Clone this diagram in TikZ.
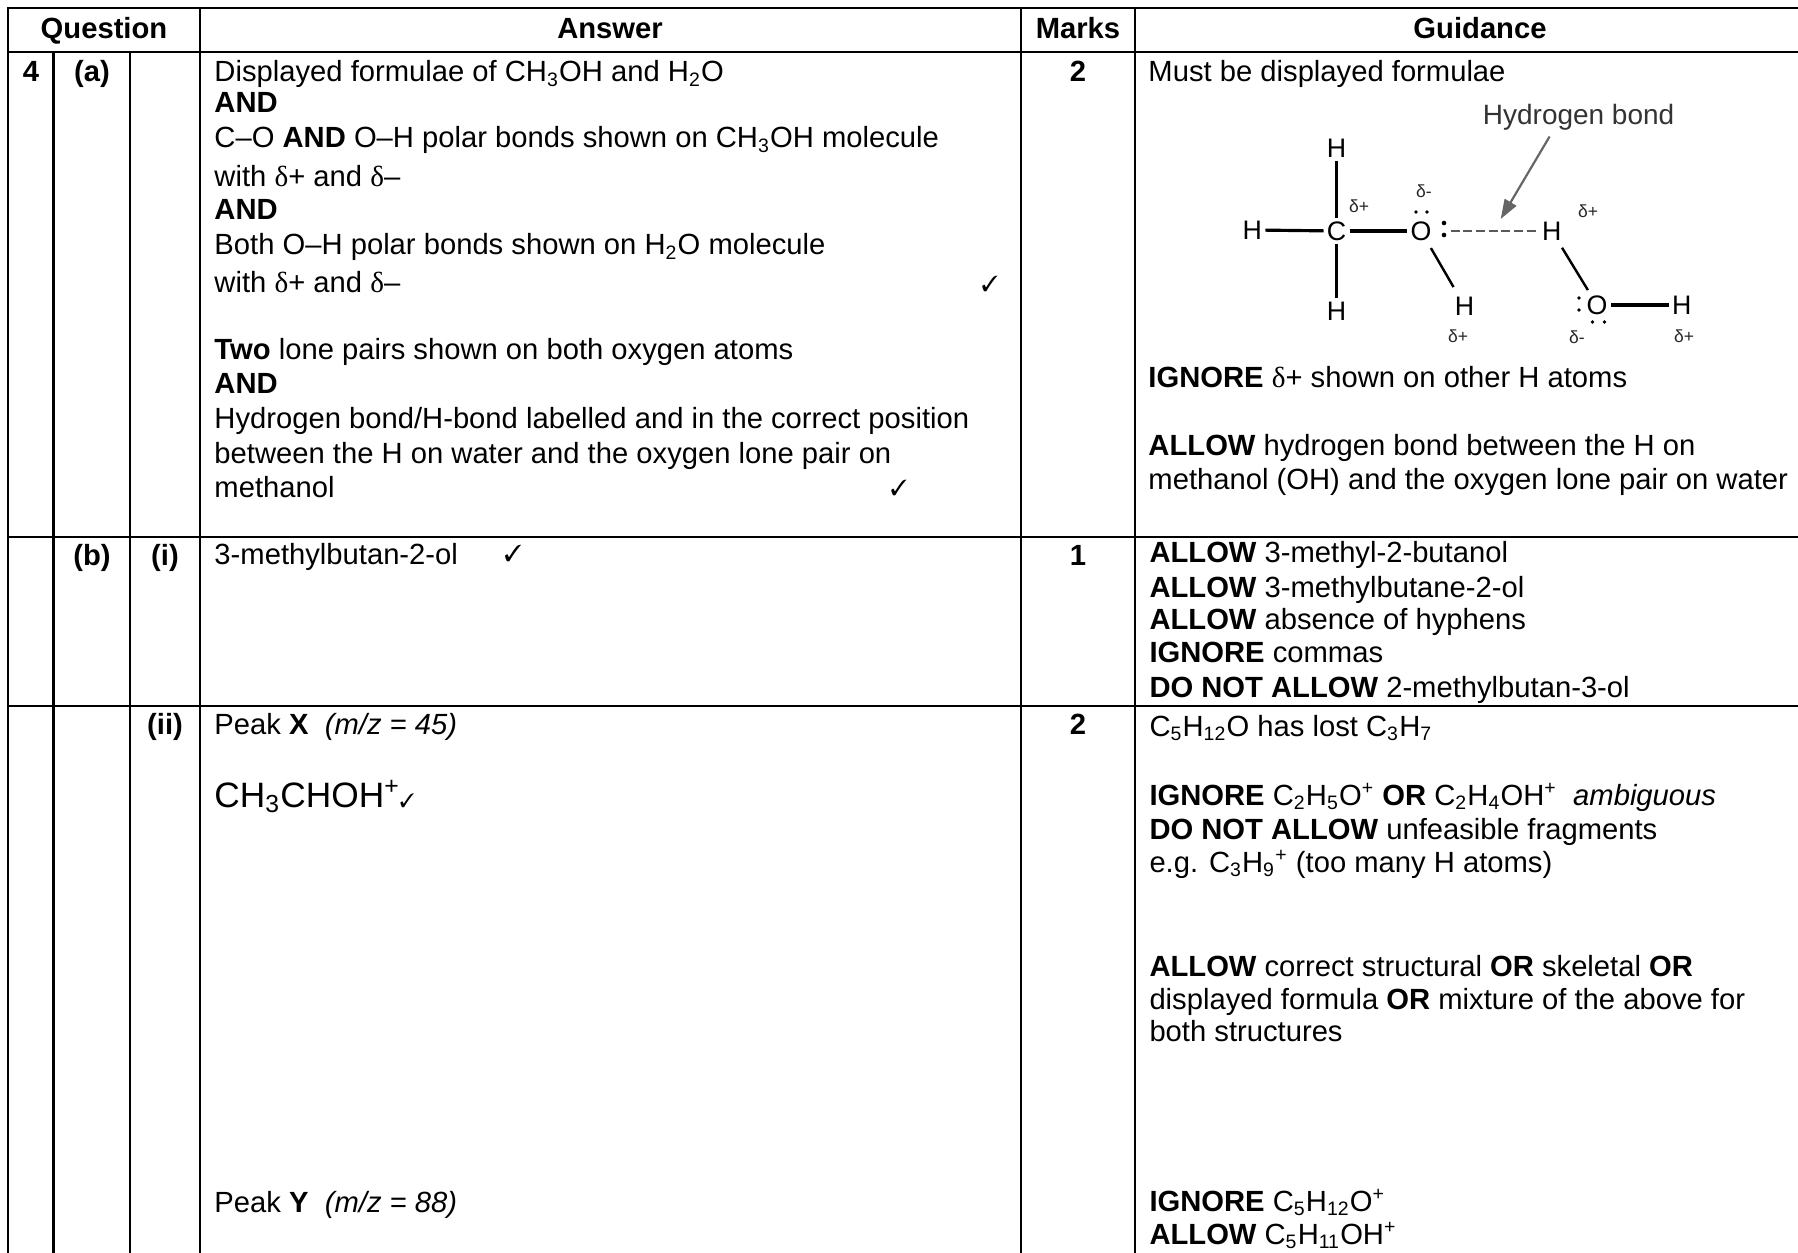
\documentclass[tikz,border=0pt]{standalone}
\usepackage{fontspec}
\usepackage{pifont}
\setmainfont{Liberation Sans}
\newfontfamily\dfont{Liberation Serif}
\usetikzlibrary{calc,arrows.meta}
\newcommand{\dd}{{\dfont δ}}
\newcommand{\sbs}[1]{\textsubscript{#1}}
\newcommand{\sps}[1]{\textsuperscript{#1}}
\newcommand{\chk}[1][9]{{\fontsize{#1}{#1}\selectfont\ding{51}}}
\begin{document}
\begin{tikzpicture}[x=0.411pt,y=-0.411pt,
  body/.style={inner sep=0pt, font=\fontsize{12}{13.8}\selectfont},
  txt/.style={body, anchor=base west},
  ctr/.style={body, anchor=base},
  hdr/.style={ctr, font=\fontsize{12}{13.8}\selectfont\bfseries},
  grid/.style={line width=0.9pt, line cap=rect},
  atom/.style={inner sep=1.2pt, font=\fontsize{11}{13}\selectfont, text=black},
  dlt/.style={inner sep=0pt, font=\fontsize{7.2}{8.5}\selectfont, text=black!85},
  bond/.style={line width=1.3pt, draw=black},
  dbond/.style={line width=1pt, draw=black},
  hbond/.style={line width=1.2pt, draw=black!65, dash pattern=on 3.6pt off 1.6pt},
  lpdot/.style={fill=black},
  pointer/.style={line width=0.9pt, draw=black!60, -{Triangle[length=8pt,width=5.5pt]}},
  lbl/.style={inner sep=0pt, font=\fontsize{11.5}{13}\selectfont, text=black!80}
]
\useasboundingbox (0,0) rectangle (1798,1253);
\clip (0,0) rectangle (1798,1253);

% ---------- grid ----------
\draw[grid] (8,8) -- (1840,8);
\draw[grid] (8,52) -- (1840,52);
\draw[grid] (8,537) -- (1840,537);
\draw[grid] (8,706) -- (1840,706);
\draw[grid] (8,8) -- (8,1270);
\draw[grid] (53.5,52) -- (53.5,1270);
\draw[grid] (130,52) -- (130,1270);
\draw[grid] (200,8) -- (200,1270);
\draw[grid] (1021,8) -- (1021,1270);
\draw[grid] (1135,8) -- (1135,1270);

% ---------- header ----------
\node[hdr] (hq) at (104,39) {Question};
\node[hdr] (ha) at (610,39) {Answer};
\node[hdr] (hm) at (1078,39) {Marks};
\node[hdr] (hg) at (1480,39) {Guidance};

% ---------- labels ----------
\node[hdr] (q4) at (31,82) {4};
\node[hdr] (qa) at (92,82) {(a)};
\node[hdr] (qb) at (92,566) {(b)};
\node[hdr] (qi) at (165,566) {(i)};
\node[hdr] (qii) at (165,734) {(ii)};
\node[hdr] (m1) at (1078,82) {2};
\node[hdr] (m2) at (1078,566) {1};
\node[hdr] (m3) at (1078,734) {2};

% ---------- answer (a) ----------
\node[txt] (a1) at (214,82) {Displayed formulae of CH\sbs{3}OH and H\sbs{2}O};
\node[txt] (a2) at (214,113) {\textbf{AND}};
\node[txt] (a3) at (214,148) {C–O \textbf{AND} O–H polar bonds shown on CH\sbs{3}OH molecule};
\node[txt] (a4) at (214,187) {with \dd+ and \dd–};
\node[txt] (a5) at (214,220) {\textbf{AND}};
\node[txt] (a6) at (214,255) {Both O–H polar bonds shown on H\sbs{2}O molecule};
\node[txt] (a7) at (214,293) {with \dd+ and \dd–};
\node[ctr] (c1) at (990,292) {\chk[9]};
\node[txt] (a8) at (214,360) {\textbf{Two} lone pairs shown on both oxygen atoms};
\node[txt] (a9) at (214,394) {\textbf{AND}};
\node[txt] (a10) at (214,429) {Hydrogen bond/H-bond labelled and in the correct position};
\node[txt] (a11) at (214,464) {between the H on water and the oxygen lone pair on};
\node[txt] (a12) at (214,498) {methanol};
\node[ctr] (c2) at (899,496) {\chk[9]};

% ---------- guidance (a) ----------
\node[txt] (g1) at (1148,82) {Must be displayed formulae};
\node[txt] (g2) at (1148,388) {\textbf{IGNORE} \dd+ shown on other H atoms};
\node[txt] (g3) at (1148,456) {\textbf{ALLOW} hydrogen bond between the H on};
\node[txt] (g4) at (1148,490) {methanol (OH) and the oxygen lone pair on water};

% ---------- molecule ----------
\node[atom] (Ht) at (1336.6,148) {H};
\node[atom] (C)  at (1336.6,231) {C};
\node[atom] (Hl) at (1252.3,230) {H};
\node[atom] (Hb) at (1336.6,311) {H};
\node[atom] (O1) at (1421,231) {O};
\node[atom] (Hw) at (1551.8,231) {H};
\node[atom] (Hm) at (1464.5,306) {H};
\node[atom] (O2) at (1597,305) {O};
\node[atom] (Hr) at (1681.8,305) {H};
\draw[bond] (Hl) -- (C);
\draw[bond] (C) -- (O1);
\draw[bond] (Ht) -- (C);
\draw[bond] (C) -- (Hb);
\draw[dbond, shorten <=2pt, shorten >=3pt] (O1) -- (Hm);
\draw[dbond, shorten <=2pt, shorten >=1pt] (Hw) -- (O2);
\draw[bond] (O2.east) -- (Hr.west);
\draw[hbond] ($(O1.east)+(16,0)$) -- (Hw.west);
% lone pairs
\fill[lpdot] ($(O1)+(-5,-19)$) circle (0.75pt);
\fill[lpdot] ($(O1)+(6,-19)$) circle (0.75pt);
\fill[lpdot] ($(O1)+(23,-8)$) circle (0.95pt);
\fill[lpdot] ($(O1)+(23,4)$) circle (0.95pt);
\fill[lpdot] ($(O2)+(-18,-7)$) circle (0.8pt);
\fill[lpdot] ($(O2)+(-18,5)$) circle (0.8pt);
\fill[lpdot] ($(O2)+(-4.5,17)$) circle (0.75pt);
\fill[lpdot] ($(O2)+(7.5,17)$) circle (0.75pt);
% partial charges
\node[dlt] (d1) at (1359,206) {δ+};
\node[dlt] (d2) at (1424,191) {δ-};
\node[dlt] (d3) at (1588,211) {δ+};
\node[dlt] (d4) at (1458,336) {δ+};
\node[dlt] (d5) at (1577,337) {δ-};
\node[dlt] (d6) at (1684,336) {δ+};
% label and arrow
\node[lbl] (hbl) at (1578.6,117) {Hydrogen bond};
\coordinate (tip) at (1500.7,219);
\draw[pointer] ($(hbl.south)+(-29,6)$) -- (tip);

% ---------- (b)(i) ----------
\node[txt] (b1) at (214,565) {3-methylbutan-2-ol};
\node[ctr] (c3) at (513,562) {\chk[9.5]};
\node[txt] (gb1) at (1149,563) {\textbf{ALLOW} 3-methyl-2-butanol};
\node[txt] (gb2) at (1149,597) {\textbf{ALLOW} 3-methylbutane-2-ol};
\node[txt] (gb3) at (1149,630) {\textbf{ALLOW} absence of hyphens};
\node[txt] (gb4) at (1149,663) {\textbf{IGNORE} commas};
\node[txt] (gb5) at (1149,697) {\textbf{DO NOT ALLOW} 2-methylbutan-3-ol};

% ---------- (b)(ii) ----------
\node[txt] (p1) at (214,734) {Peak \textbf{X}\ \ \textit{(m/z = 45)}};
\node[txt] (p2) at (214,807) {\fontsize{14.5}{16}\selectfont CH\sbs{3}CHOH\sps{+}\chk[8]};
\node[txt] (p3) at (214,1212) {Peak \textbf{Y}\ \ \textit{(m/z = 88)}};
\node[txt] (gc1) at (1149,736) {C\sbs{5}H\sbs{12}O has lost C\sbs{3}H\sbs{7}};
\node[txt] (gc2) at (1149,805) {\textbf{IGNORE} C\sbs{2}H\sbs{5}O\sps{+} \textbf{OR} C\sbs{2}H\sbs{4}OH\sps{+}\ \ \textit{ambiguous}};
\node[txt] (gc3) at (1149,839) {\textbf{DO NOT ALLOW} unfeasible fragments};
\node[txt] (gc4) at (1149,872) {e.g. C\sbs{3}H\sbs{9}\sps{+} (too many H atoms)};
\node[txt] (gc5) at (1149,976) {\textbf{ALLOW} correct structural \textbf{OR} skeletal \textbf{OR}};
\node[txt] (gc6) at (1149,1009) {displayed formula \textbf{OR} mixture of the above for};
\node[txt] (gc7) at (1149,1041) {both structures};
\node[txt] (gc8) at (1149,1211) {\textbf{IGNORE} C\sbs{5}H\sbs{12}O\sps{+}};
\node[txt] (gc9) at (1149,1244) {\textbf{ALLOW} C\sbs{5}H\sbs{11}OH\sps{+}};
\end{tikzpicture}
\end{document}
